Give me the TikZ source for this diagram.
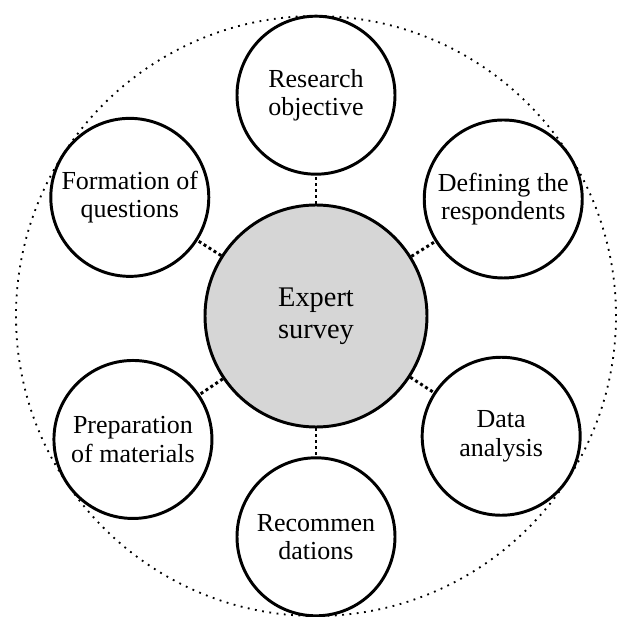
\documentclass[tikz,border=0pt]{standalone}
\usepackage{fontspec}
\setmainfont{Liberation Serif}
\usepackage{xcolor}
\definecolor{hubgray}{RGB}{214,214,214}
\usepackage{tikz}
\newcommand{\spoke}{5.52}
\tikzset{
    common/.style={draw, circle, inner sep=0pt, align=center, line width=2.1pt},
    stage/.style={common, minimum size=3.95cm, font=\fontsize{18.5}{20}\selectfont},
    hub/.style={common, fill=hubgray, minimum size=5.55cm, font=\fontsize{20.2}{22.7}\selectfont},
    link/.style={line width=2.1pt, dash pattern=on 2.1pt off 2.1pt},
    ring/.style={line width=1.3pt, dash pattern=on 1.3pt off 3.9pt}
}

\begin{document}
\begin{tikzpicture}
      \useasboundingbox (-7.9,-7.525) rectangle (7.525,7.9);

      \draw[ring] (0,0) circle (7.5);

      \path
          node[hub] (expert-survey) {Expert\\survey}
          +(90:\spoke) node[stage] (research-objective) {Research\\objective}
          +(32:\spoke) node[stage] (defining-respondents) {Defining the\\respondents}
          +(-33:\spoke) node[stage] (data-analysis) {Data\\analysis}
          +(-90:\spoke) node[stage] (recommendations) {Recommen\\dations}
          +(214:\spoke) node[stage] (preparation-materials) {Preparation\\of materials}
          +(147.5:\spoke) node[stage] (formation-questions) {Formation of\\questions};

      \draw[link] (expert-survey) -- (research-objective);
      \draw[link] (expert-survey) -- (defining-respondents);
      \draw[link] (expert-survey) -- (data-analysis);
      \draw[link] (expert-survey) -- (recommendations);
      \draw[link] (expert-survey) -- (preparation-materials);
      \draw[link] (expert-survey) -- (formation-questions);
\end{tikzpicture}
\end{document}
